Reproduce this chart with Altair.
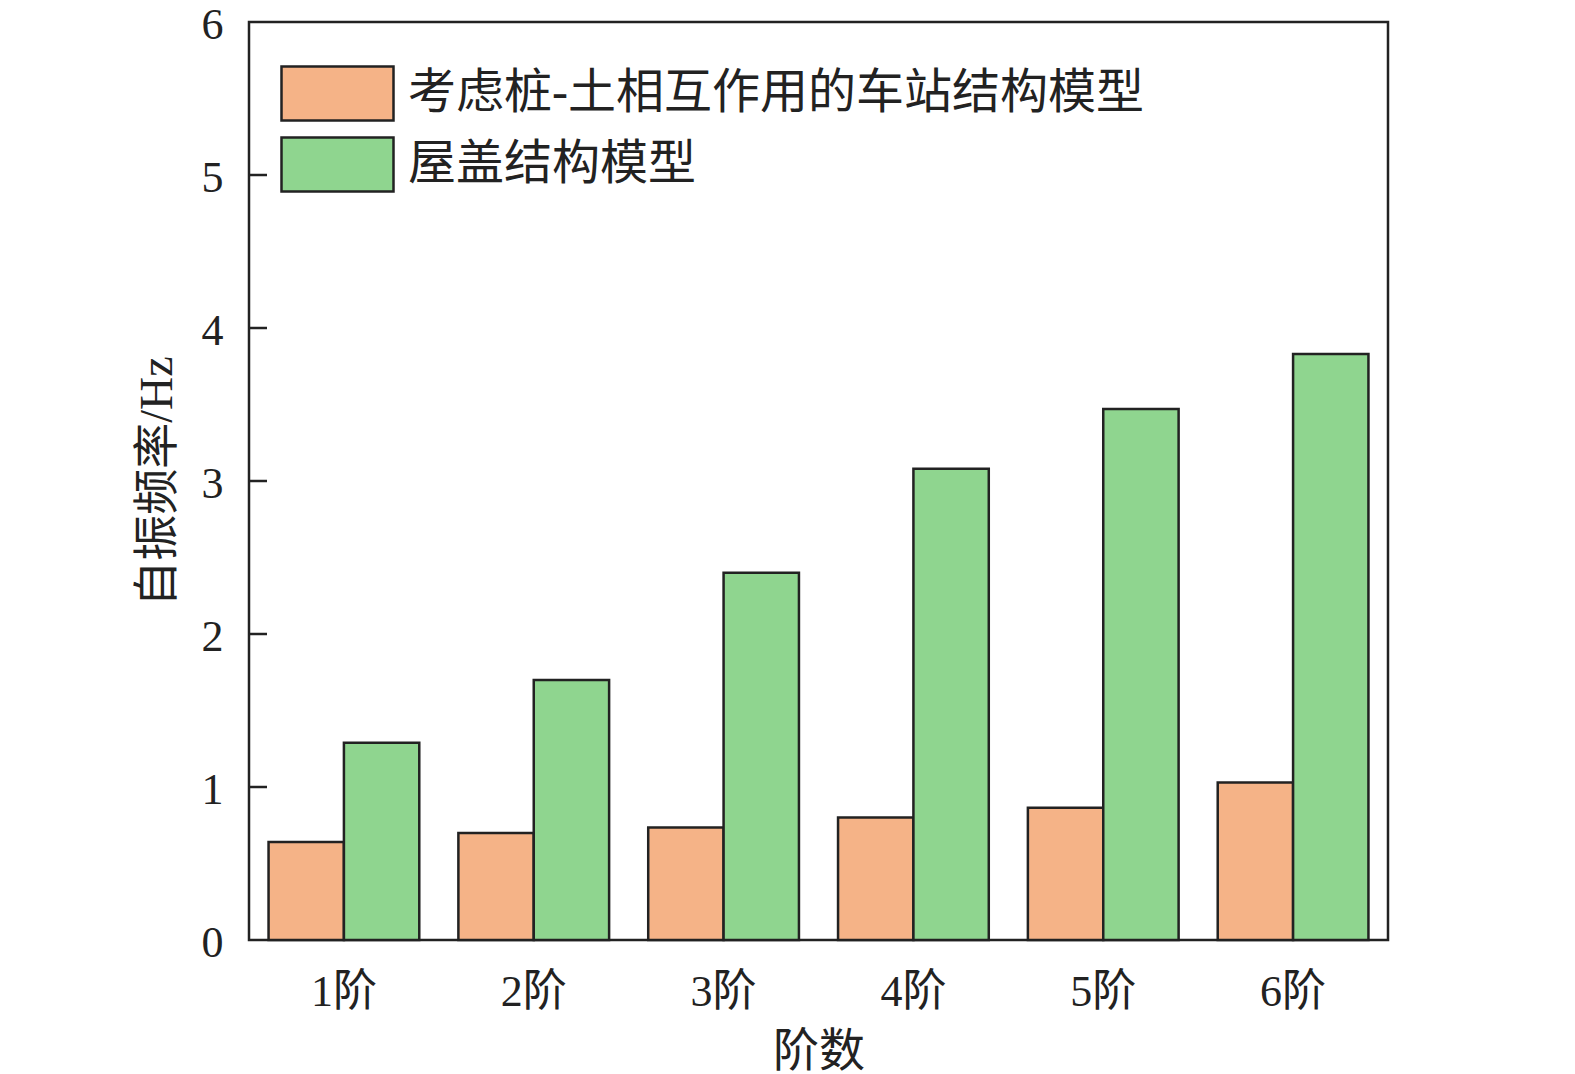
import altair as alt
import pandas as pd

orders = ["1阶", "2阶", "3阶", "4阶", "5阶", "6阶"]
models = ["考虑桩-土相互作用的车站结构模型", "屋盖结构模型"]
soil_vals = [0.64, 0.70, 0.735, 0.80, 0.865, 1.03]
roof_vals = [1.29, 1.70, 2.40, 3.08, 3.47, 3.83]
colors = ["#F5B387", "#8FD58F"]
y_ticks = [0, 1, 2, 3, 4, 5, 6]

rows = []
for o, a, b in zip(orders, soil_vals, roof_vals):
    rows.append({"order": o, "model": models[0], "freq": a})
    rows.append({"order": o, "model": models[1], "freq": b})
df = pd.DataFrame(rows)
tick_df = pd.DataFrame({"t": y_ticks[1:-1]})

FONT = "Liberation Serif, Times New Roman, Noto Sans CJK SC"
INK = "#222222"

yscale = alt.Scale(domain=[0, 6], nice=False, zero=True)

bars = alt.Chart(df).mark_bar(stroke=INK, strokeWidth=2.5).encode(
    x=alt.X("order:N", sort=orders,
            scale=alt.Scale(paddingInner=0.206, paddingOuter=0.103),
            axis=alt.Axis(title="阶数", labelAngle=0, ticks=False, domain=False,
                          labelPadding=30, titlePadding=15)),
    xOffset=alt.XOffset("model:N", sort=models,
                        scale=alt.Scale(paddingInner=0, paddingOuter=0)),
    y=alt.Y("freq:Q", scale=yscale,
            axis=alt.Axis(title="自振频率/Hz", values=y_ticks, format="d", ticks=False,
                          domain=False, grid=False, labelPadding=26, titlePadding=20,
                          labelOffset=3)),
    color=alt.Color("model:N", sort=models,
                    scale=alt.Scale(domain=models, range=colors),
                    legend=alt.Legend(title=None, orient="none", legendX=59, legendY=42,
                                      symbolType="M-2,-0.96H2V0.96H-2Z",
                                      symbolSize=3136, symbolStrokeColor=INK,
                                      symbolStrokeWidth=2.5, symbolOpacity=1,
                                      labelFontSize=48, labelFont=FONT, labelColor=INK,
                                      labelOffset=41, rowPadding=6, padding=0,
                                      labelLimit=1000)),
)

ticks = alt.Chart(tick_df).mark_rule(color=INK, strokeWidth=2.5).encode(
    y=alt.Y("t:Q", scale=yscale),
    x=alt.value(0),
    x2=alt.value(18),
)

chart = alt.layer(bars, ticks).properties(
    width=1139, height=918,
    autosize=alt.AutoSizeParams(type="none"),
    padding={"left": 241, "top": 14, "right": 90, "bottom": 134},
).configure_view(
    stroke=INK, strokeWidth=2.5
).configure_axis(
    labelFont=FONT, titleFont=FONT, labelFontSize=44, titleFontSize=46,
    labelColor=INK, titleColor=INK, titleFontWeight="normal",
)

chart.save("out.html", embed_options={"renderer": "svg", "actions": False})
